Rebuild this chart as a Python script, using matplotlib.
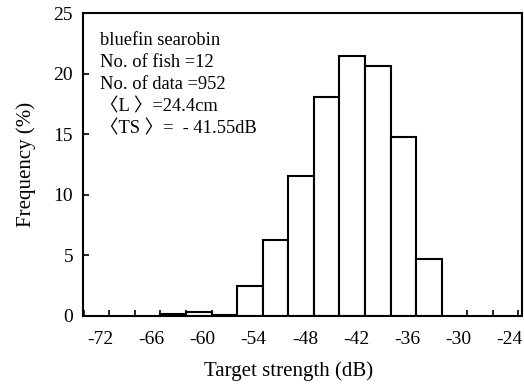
import numpy as np
import matplotlib.pyplot as plt
from matplotlib.ticker import MultipleLocator
from matplotlib.transforms import ScaledTranslation

# histogram bins (left edge, dB) and frequencies (%)
bin_left = [-66, -63, -60, -57, -54, -51, -48, -45, -42, -39, -36]
freq = [0.1, 0.33, 0.05, 2.45, 6.25, 11.55, 18.05, 21.5, 20.65, 14.8, 4.7]
bin_width = 3

xticks = [-72, -66, -60, -54, -48, -42, -36, -30, -24]
yticks = [0, 5, 10, 15, 20, 25]

info = ['bluefin searobin',
        'No. of fish =12',
        'No. of data =952',
        '\u3008L \u3009=24.4cm',
        '\u3008TS \u3009=  - 41.55dB']

plt.rcParams['font.family'] = ['Liberation Serif', 'Noto Sans CJK SC']

fig = plt.figure(figsize=(5.24, 3.84), dpi=100)
ax = fig.add_axes([0.158, 0.178, 0.838, 0.787])

ax.bar(bin_left, freq, width=bin_width, align='edge',
       facecolor='white', edgecolor='black', linewidth=1.5)

ax.set_xlim(-75.1, -23.6)
ax.set_ylim(0, 25)
ax.set_xticks(xticks)
ax.set_xticklabels([str(t) for t in xticks])
ax.xaxis.set_minor_locator(MultipleLocator(3))
ax.set_yticks(yticks)

ax.tick_params(axis='x', which='both', direction='in', length=4, width=1.2,
               pad=11, labelsize=14)
ax.tick_params(axis='y', direction='in', length=4, width=1.2, pad=7, labelsize=14)

# the labels in the figure sit a little left of their tick marks
shift = ScaledTranslation(-9 / 100, 0, fig.dpi_scale_trans)
for lab in ax.get_xticklabels():
    lab.set_transform(lab.get_transform() + shift)

for s in ax.spines.values():
    s.set_linewidth(1.5)

ax.set_xlabel('Target strength (dB)', fontsize=15)
ax.xaxis.set_label_coords(0.469, -0.185)
ax.xaxis.label.set_va('center')
ax.set_ylabel('Frequency (%)', fontsize=15)
ax.yaxis.set_label_coords(-0.128, 0.5)
ax.yaxis.label.set_va('center')

for i, line in enumerate(info):
    ax.text(0.04, 0.91 - i * 0.073, line, transform=ax.transAxes,
            fontsize=13.3, va='center', ha='left')

fig.savefig('out.png', dpi=100)
